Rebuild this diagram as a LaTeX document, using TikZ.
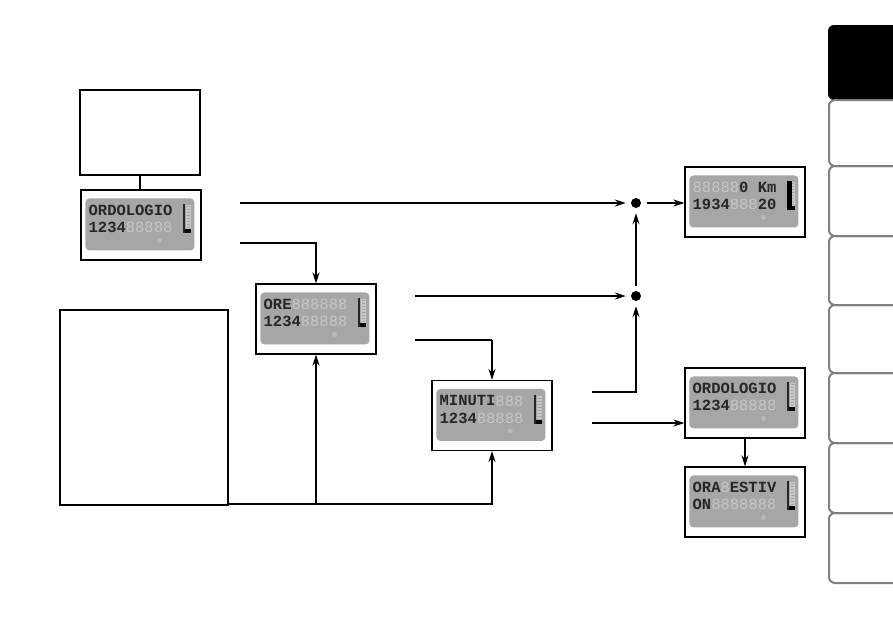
\documentclass[tikz,border=0pt]{standalone}
\usepackage{fontspec}
\newfontfamily\lcdfont{Liberation Mono}
\usetikzlibrary{arrows.meta,positioning}
\newcommand{\bl}{\phantom{8}}

\begin{document}
\begin{tikzpicture}[>={Stealth[length=11pt,width=7pt]}, x=1pt, y=-1pt]
        \tikzstyle{frame}=[rectangle, draw=black, line width=1.1pt, fill=white]
        \tikzstyle{lcdbox}=[frame, minimum width=120pt, minimum height=70pt]
        \tikzstyle{lcdtext}=[inner sep=0pt, text=black!85, font=\lcdfont\bfseries\fontsize{15.5}{15.5}\selectfont]
        \tikzstyle{faint}=[lcdtext, text=black!22, font=\lcdfont\fontsize{15.5}{15.5}\selectfont]
        \tikzstyle{conn}=[line width=2pt]
        \tikzstyle{thinconn}=[line width=1.1pt]
        \tikzstyle{joint}=[circle, fill=black, inner sep=0pt, minimum size=10pt]
        \tikzstyle{tabline}=[draw=black!50, line width=2pt, rounded corners=6pt]
        \useasboundingbox (0,0) rectangle (893,630);
        \node[frame, minimum width=120pt, minimum height=85pt] (note) at (140,132.5) {};
        \node[lcdbox] (clockA) at (141,225) {};
        \node[frame, minimum width=168pt, minimum height=195pt] (help) at (144,407.5) {};
        \node[lcdbox] (hours) at (316,319) {};
        \node[lcdbox] (mins) at (492,415.5) {};
        \node[lcdbox] (trip) at (745,202) {};
        \node[lcdbox] (clockB) at (745,403) {};
        \node[lcdbox] (summer) at (745,502) {};
        \node[joint] (j1) at (636,203) {};
        \node[joint] (j2) at (636,296) {};
        \foreach \n/\rowa/\rowb/\offa/\offb in {
            clockA/ORDOLOGIO/1234/{}/{\bl\bl\bl\bl88888},
            hours/ORE/1234/{\bl\bl\bl888888}/{\bl\bl\bl\bl88888},
            mins/MINUTI/1234/{\bl\bl\bl\bl\bl\bl888}/{\bl\bl\bl\bl88888},
            trip/{\bl\bl\bl\bl\bl0\bl Km}/{1934\bl\bl\bl20}/{88888}/{\bl\bl\bl\bl888},
            clockB/ORDOLOGIO/1234/{}/{\bl\bl\bl\bl88888},
            summer/ORA/ON/{\bl\bl\bl8}/{\bl\bl8888888}} {
            \begin{scope}[shift={(\n.north west)}]
                \fill[black!35, rounded corners=4pt] (5,9) rectangle (114,61);
                \node[faint, anchor=west] (\n-fa) at (8,21) {\offa};
                \node[faint, anchor=west] (\n-fb) at (8,38) {\offb};
                \node[lcdtext, anchor=west] (\n-a) at (8,21) {\rowa};
                \node[lcdtext, anchor=west] (\n-b) at (8,38) {\rowb};
                \foreach \k in {0,...,7}
                    \draw[black!22, line width=0.6pt] (106,16+3*\k) rectangle (110,17.5+3*\k);
                \fill[black!85] (103,15) rectangle (105,44);
                \fill[black] (105,40) rectangle (111,44);
                \fill[black!28] (79,51) circle (2.5pt);
            \end{scope}
        }
        \node[lcdtext, anchor=west] (summer-c) at ([shift={(45.2,21)}]summer.north west) {ESTIV};
        \fill[black] ([shift={(103,15)}]trip.north west) rectangle ([shift={(108,44)}]trip.north west);
        \coordinate (s1) at (240,203);
        \coordinate (s2) at (240,243);
        \coordinate (s3) at (415,296);
        \coordinate (s4) at (415,340);
        \coordinate (s5) at (592,392);
        \coordinate (s6) at (592,423);
        \coordinate (s7) at ([yshift=2pt]help.south east);
        \draw[conn] (note.south) -- (note.south |- clockA.north);
        \draw[conn, ->, shorten >=5pt] (s1) -- (j1);
        \draw[thinconn, ->, shorten <=6pt] (j1) -- (j1 -| trip.west);
        \draw[conn, ->] (s2) -| (hours.north);
        \draw[conn, ->, shorten >=5pt] (s3) -- (j2);
        \draw[thinconn] (s4) -- (s4 -| mins.north);
        \draw[conn, ->] (s4 -| mins.north) -- (mins.north);
        \draw[conn, ->, shorten <=5pt, shorten >=5pt] (j2) -- (j1);
        \draw[conn, ->, shorten >=5pt] (s5) -| (j2);
        \draw[thinconn, ->] (s6) -- (s6 -| clockB.west);
        \draw[conn, ->] (clockB) -- (summer);
        \draw[conn, ->] (s7) -| (mins.south);
        \draw[conn, ->] (s7 -| hours.south) -- (hours.south);
        \fill[black, rounded corners=6pt] (893,25) -- (828,25) -- (828,100) -- (893,100);
        \foreach \a/\b in {100/166,166/236,236/305,305/373,373/443,443/513,513/583}
            \draw[tabline] (893,\a) -- (829,\a) -- (829,\b) -- (893,\b);
    \end{tikzpicture}
\end{document}
